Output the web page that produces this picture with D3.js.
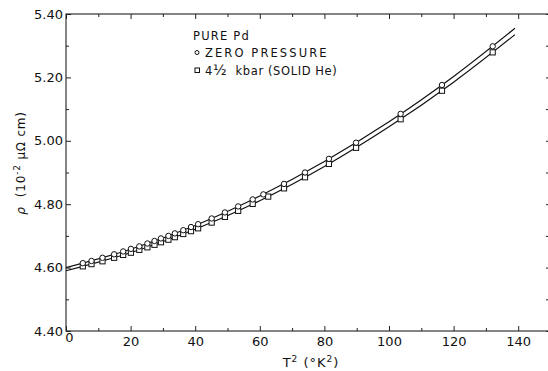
<!DOCTYPE html>
<html>
<head>
<meta charset="utf-8">
<script src="https://cdn.jsdelivr.net/npm/d3@7"></script>
<style>
  html, body { margin: 0; padding: 0; background: #fff; }
  svg { display: block; }
  text { font-family: "DejaVu Sans", sans-serif; fill: #111; }
</style>
</head>
<body>
<svg id="chart" width="548" height="371"></svg>
<script>
// ---- data ----
const zeroT2 = [5.2, 7.9, 11.3, 14.9, 17.7, 20.1, 22.7, 25.2, 27.4, 29.4, 31.7, 33.7, 36.3, 38.7, 40.9, 45.1, 49.2, 53.3, 57.8, 61.1, 67.5, 74.0, 81.4, 89.8, 103.6, 116.4, 132.1];
const zeroRho = [4.614, 4.621, 4.631, 4.642, 4.651, 4.659, 4.667, 4.676, 4.684, 4.692, 4.700, 4.708, 4.718, 4.728, 4.737, 4.755, 4.774, 4.793, 4.815, 4.831, 4.864, 4.900, 4.943, 4.994, 5.085, 5.176, 5.298];
const kbarT2 = [5.2, 7.9, 11.3, 14.9, 17.7, 20.1, 22.7, 25.2, 27.4, 29.4, 31.7, 33.7, 36.3, 38.7, 40.9, 45.1, 49.2, 53.3, 57.8, 62.6, 67.5, 74.0, 81.4, 89.8, 103.6, 116.4, 132.1];
const kbarRho = [4.604, 4.611, 4.620, 4.631, 4.640, 4.647, 4.656, 4.664, 4.672, 4.680, 4.688, 4.696, 4.706, 4.715, 4.724, 4.742, 4.760, 4.779, 4.801, 4.824, 4.850, 4.885, 4.927, 4.978, 5.068, 5.158, 5.279];
// fitted curves drawn in the reference
const curveT2 = [0, 20, 40, 60, 80, 100, 120, 139];
const zeroCurve = [4.600, 4.658, 4.733, 4.826, 4.935, 5.060, 5.203, 5.355];
const kbarCurve = [4.590, 4.647, 4.721, 4.811, 4.919, 5.044, 5.185, 5.335];
const xTickLabels = [0, 20, 40, 60, 80, 100, 120, 140];
const xMinorTicks = [10, 30, 50, 70, 90, 110, 130, 150];
const yTickLabels = [4.40, 4.60, 4.80, 5.00, 5.20, 5.40];
const yMinorTicks = [4.50, 4.70, 4.90, 5.10, 5.30];

const svg = d3.select("#chart");
const x = d3.scaleLinear().domain([0, 150]).range([66, 550.5]);
const y = d3.scaleLinear().domain([4.4, 5.4]).range([331, 14]);
const X0 = 66, X1 = 551, Y0 = 331, Y1 = 14;

// frame
svg.append("rect").attr("x", X0).attr("y", Y1).attr("width", X1 - X0).attr("height", Y0 - Y1)
  .attr("fill", "none").attr("stroke", "#222").attr("stroke-width", 1.1);

// bottom axis
const gB = svg.append("g").attr("transform", `translate(0,${Y0})`)
  .call(d3.axisBottom(x).tickValues(xTickLabels).tickSize(-5).tickPadding(6).tickFormat(d3.format("d")));
gB.select(".domain").remove();
gB.selectAll("text").style("font-size", "13px").style("font-family", "DejaVu Sans, sans-serif").attr("fill", "#111");
gB.selectAll("text").filter(d => d === 0).attr("dx", 3).attr("dy", "0.35em");
gB.selectAll("line").attr("stroke", "#222");
const gBm = svg.append("g").attr("transform", `translate(0,${Y0})`)
  .call(d3.axisBottom(x).tickValues(xMinorTicks).tickSize(-3).tickFormat(""));
gBm.select(".domain").remove();
gBm.selectAll("line").attr("stroke", "#222");

// top axis ticks
const gT = svg.append("g").attr("transform", `translate(0,${Y1})`)
  .call(d3.axisTop(x).tickValues(xTickLabels).tickSize(-5).tickFormat(""));
gT.select(".domain").remove();
gT.selectAll("line").attr("stroke", "#222");
const gTm = svg.append("g").attr("transform", `translate(0,${Y1})`)
  .call(d3.axisTop(x).tickValues(xMinorTicks).tickSize(-3).tickFormat(""));
gTm.select(".domain").remove();
gTm.selectAll("line").attr("stroke", "#222");

// left axis
const gL = svg.append("g").attr("transform", `translate(${X0},0)`)
  .call(d3.axisLeft(y).tickValues(yTickLabels).tickSize(-5).tickPadding(3).tickFormat(d3.format(".2f")));
gL.select(".domain").remove();
gL.selectAll("text").style("font-size", "13px").style("font-family", "DejaVu Sans, sans-serif").attr("fill", "#111");
gL.selectAll("line").attr("stroke", "#222");
const gLm = svg.append("g").attr("transform", `translate(${X0},0)`)
  .call(d3.axisLeft(y).tickValues(yMinorTicks).tickSize(-3).tickFormat(""));
gLm.select(".domain").remove();
gLm.selectAll("line").attr("stroke", "#222");

// right axis ticks
const gR = svg.append("g").attr("transform", `translate(${X1},0)`)
  .call(d3.axisRight(y).tickValues(yTickLabels.concat(yMinorTicks)).tickSize(-5).tickFormat(""));
gR.select(".domain").remove();
gR.selectAll("line").attr("stroke", "#222");

// curves
const line = d3.line().x(d => x(d[0])).y(d => y(d[1])).curve(d3.curveCatmullRom);
svg.append("path").datum(curveT2.map((t, i) => [t, zeroCurve[i]]))
  .attr("d", line).attr("fill", "none").attr("stroke", "#111").attr("stroke-width", 1.2);
svg.append("path").datum(curveT2.map((t, i) => [t, kbarCurve[i]]))
  .attr("d", line).attr("fill", "none").attr("stroke", "#111").attr("stroke-width", 1.2);

// markers
svg.append("g").selectAll("rect").data(kbarT2.map((t, i) => [t, kbarRho[i]])).join("rect")
  .attr("x", d => x(d[0]) - 2.6).attr("y", d => y(d[1]) - 2.6)
  .attr("width", 5.2).attr("height", 5.2)
  .attr("fill", "#fff").attr("stroke", "#111").attr("stroke-width", 1);
svg.append("g").selectAll("circle").data(zeroT2.map((t, i) => [t, zeroRho[i]])).join("circle")
  .attr("cx", d => x(d[0])).attr("cy", d => y(d[1])).attr("r", 2.7)
  .attr("fill", "#fff").attr("stroke", "#111").attr("stroke-width", 1);

// legend
const lg = svg.append("g");
lg.append("text").attr("x", 193).attr("y", 40).text("PURE Pd")
  .style("font-size", "11.5px").style("letter-spacing", "1.2px");
lg.append("circle").attr("cx", 197).attr("cy", 52.5).attr("r", 2).attr("fill", "none").attr("stroke", "#111");
lg.append("text").attr("x", 205).attr("y", 57).text("ZERO PRESSURE")
  .style("font-size", "11.5px").style("letter-spacing", "2.1px");
lg.append("rect").attr("x", 195).attr("y", 68).attr("width", 4.5).attr("height", 4.5).attr("fill", "none").attr("stroke", "#111");
const t2 = lg.append("text").attr("x", 205).attr("y", 75).style("font-size", "11.5px").style("letter-spacing", "0.6px");
t2.append("tspan").text("4");
t2.append("tspan").text("½").style("font-size", "14px");
t2.append("tspan").text("  kbar (SOLID He)").attr("xml:space", "preserve");

// axis titles
const xt = svg.append("text").attr("x", 311).attr("y", 367).attr("text-anchor", "middle")
  .style("font-size", "13px").style("letter-spacing", "1px");
xt.append("tspan").text("T");
xt.append("tspan").text("2").attr("dy", -5).style("font-size", "9px");
xt.append("tspan").text(" (°K").attr("dy", 5);
xt.append("tspan").text("2").attr("dy", -5).style("font-size", "9px");
xt.append("tspan").text(")").attr("dy", 5);

const yt = svg.append("text").attr("transform", "translate(25,163) rotate(-90)").attr("text-anchor", "middle")
  .style("font-size", "12px").style("letter-spacing", "0.8px");
yt.append("tspan").text("ρ").style("font-style", "italic");
yt.append("tspan").text("  (10").attr("xml:space", "preserve");
yt.append("tspan").text("-2").attr("dy", -5).style("font-size", "9px");
yt.append("tspan").text("  μΩ  cm)").attr("dy", 5);
</script>
</body>
</html>
